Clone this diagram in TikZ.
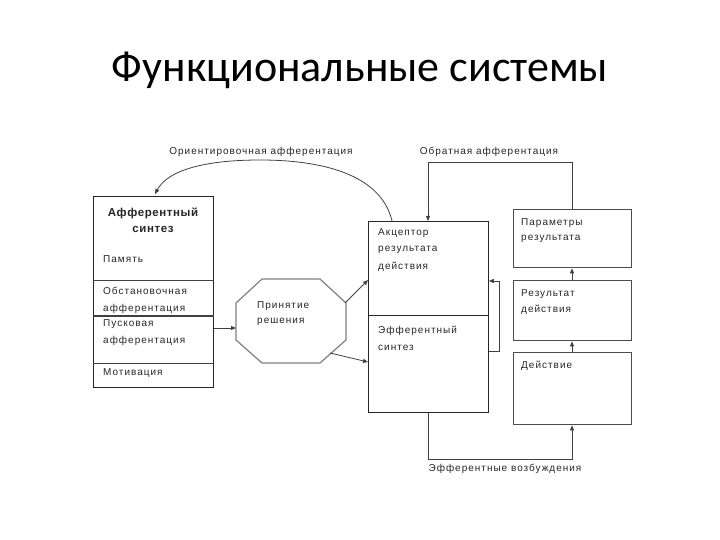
\documentclass[tikz,border=0pt]{standalone}
\usepackage{fontspec}
\setmainfont{Liberation Sans}[LetterSpace=10]
\newfontfamily\titlefont{Carlito}
\usetikzlibrary{arrows.meta,calc}
\begin{document}
\begin{tikzpicture}[x=1pt,y=-1pt,
  box/.style={draw=black!85,line width=0.8pt,minimum width=120pt,anchor=north west,inner sep=0pt},
  rbox/.style={draw=black!70,line width=1.4pt,minimum width=118pt,anchor=north west,inner sep=0pt},
  txt/.style={font=\fontsize{10}{12}\selectfont,anchor=west,inner sep=0pt,text=black!85},
  lbl/.style={font=\fontsize{10}{12}\selectfont,inner sep=0pt,text=black!85},
  conn/.style={draw=black!75,line width=0.8pt},
  arr/.style={conn,-{Triangle[length=5pt,width=4pt]}}]
\useasboundingbox (0,0) rectangle (720,540);
% title
\node[font=\titlefont\fontsize{44}{50}\selectfont,inner sep=0pt] (title) at (360,70) {Функциональные системы};
% left box
\node[box,minimum height=191pt] (aff) at (93,196) {};
\coordinate (d1) at (0,280);
\coordinate (d2) at (0,316);
\coordinate (d3) at (0,363);
\draw[conn] (aff.west |- d1) -- (aff.east |- d1);
\draw[conn,line width=1.3pt] (aff.west |- d2) -- (aff.east |- d2);
\draw[conn] (aff.west |- d3) -- (aff.east |- d3);
\node[lbl,font=\bfseries\fontsize{11.5}{13}\selectfont\addfontfeatures{LetterSpace=5},align=center] (afft) at (153,220) {Афферентный\\[3pt]синтез};
\node[txt] (mem) at (103,259) {Память};
\node[txt] (obst1) at (103,291) {Обстановочная};
\node[txt] (obst2) at (103,309) {афферентация};
\node[txt] (pusk1) at (103,324) {Пусковая};
\node[txt] (pusk2) at (103,341) {афферентация};
\node[txt] (motiv) at (103,373) {Мотивация};
% decision octagon
\coordinate (o1) at (262,279);
\coordinate (o2) at (320,279);
\coordinate (o3) at (346,303);
\coordinate (o4) at (346,340);
\coordinate (o5) at (320,363);
\coordinate (o6) at (262,363);
\coordinate (o7) at (236,340);
\coordinate (o8) at (236,303);
\draw[draw=black!50,line width=1.2pt,fill=white] (o1)--(o2)--(o3)--(o4)--(o5)--(o6)--(o7)--(o8)--cycle;
\node[txt] (dec1) at (257,306) {Принятие};
\node[txt] (dec2) at (257,322) {решения};
\coordinate (oin) at (236,328);
\coordinate (oup) at (345,303);
\coordinate (odn) at (330,353);
% middle box
\node[box,minimum height=94pt] (acc) at (368,221) {};
\node[box,minimum height=97pt] (eff) at (368,315) {};
\node[txt] (acc1) at (378,233) {Акцептор};
\node[txt] (acc2) at (378,250) {результата};
\node[txt] (acc3) at (378,267) {действия};
\node[txt] (eff1) at (378,331) {Эфферентный};
\node[txt] (eff2) at (378,348) {синтез};
% right boxes
\node[rbox,minimum height=58pt] (par) at (513,209) {};
\node[rbox,minimum height=60pt] (res) at (513,280) {};
\node[rbox,minimum height=72pt] (act) at (513,352) {};
\node[txt] (par1) at (521,223) {Параметры};
\node[txt] (par2) at (521,239) {результата};
\node[txt] (res1) at (521,294) {Результат};
\node[txt] (res2) at (521,310) {действия};
\node[txt] (act1) at (521,366) {Действие};
% connectors
\draw[arr] (aff.east |- oin) -- (oin);
\draw[arr] (oup) -- (acc.west |- 0,280);
\draw[arr] (odn) -- (eff.west |- 0,362);
\draw[arr] (act.north -| 572,0) -- (res.south -| 572,0);
\draw[arr] (res.north -| 572,0) -- (par.south -| 572,0);
% feedback
\coordinate (fb1) at (572,162);
\coordinate (fb2) at (428,162);
\draw[arr] (par.north -| fb1) -- (fb1) -- (fb2) -- (acc.north -| fb2);
\node[lbl] (fbl) at (489,152) {Обратная афферентация};
% efferent loop to acceptor
\coordinate (lp1) at (499,351);
\coordinate (lp2) at (499,281);
\draw[arr] (eff.east |- lp1) -- (lp1) -- (lp2) -- (acc.east |- lp2);
% efferent excitations
\coordinate (ex1) at (428,459);
\coordinate (ex2) at (572,459);
\draw[arr] (eff.south -| ex1) -- (ex1) -- (ex2) -- (act.south -| ex2);
\node[lbl] (exl) at (505,469) {Эфферентные возбуждения};
% orienting afferentation
\coordinate (or0) at (392,221);
\coordinate (or1) at (260,160);
\coordinate (or2) at (155,194);
\draw[arr] (or0) .. controls (382,178) and (330,160) .. (or1) .. controls (205,160) and (168,170) .. (or2);
\node[lbl] (orl) at (261,152) {Ориентировочная афферентация};
\end{tikzpicture}
\end{document}
